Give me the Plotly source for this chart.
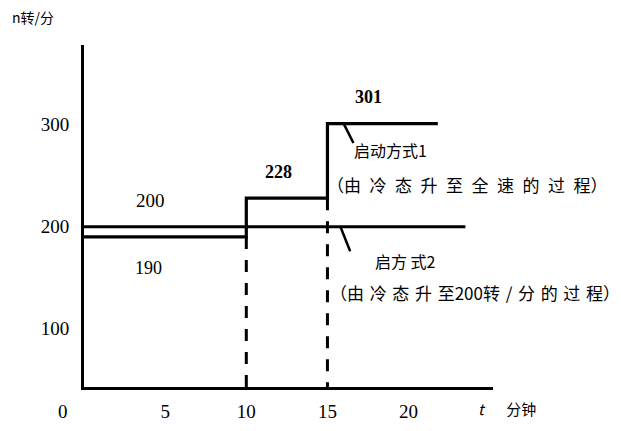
import plotly.graph_objects as go

# ---- data ----
mode1_t = [0, 10, 10, 15, 15, 21.8]
mode1_n = [190, 190, 228, 228, 301, 301]
mode2_t = [0, 23.5]
mode2_n = [200, 200]
step_times = [10, 15]
step_from = [190, 228]
x_ticks = [0, 5, 10, 15, 20]
x_ticktext = ["0" + "\u00a0" * 9, "5", "10", "15", "20"]
y_ticks = [100, 200, 300]
y_ticktext = ["100", "200", "300"]
x_range = [0, 25.2]
y_range = [43, 378]

SERIF = "Liberation Serif, DejaVu Serif, serif"
CJK = "Noto Sans CJK SC, sans-serif"

# plot area in screen pixels (page body adds an 8px offset)
PL, PR, PT, PB = 84, 493, 45, 387
OFF = 8

def px(x):
    return (x - PL) / (PR - PL)

def py(y):
    return (PB - y) / (PB - PT)

def spaced(s, sep="\u2002"):
    return sep.join(list(s))

fig = go.Figure()

for t, n in zip(step_times, step_from):
    fig.add_trace(go.Scatter(x=[t, t], y=[n, y_range[0]], mode="lines",
                             line=dict(color="black", width=3, dash="12px,11px"),
                             hoverinfo="skip", showlegend=False))

fig.add_trace(go.Scatter(x=mode2_t, y=mode2_n, mode="lines",
                         line=dict(color="black", width=3), name="启动方式2",
                         showlegend=False))
fig.add_trace(go.Scatter(x=mode1_t, y=mode1_n, mode="lines",
                         line=dict(color="black", width=3.2),
                         name="启动方式1", showlegend=False))

# leader lines
fig.add_shape(type="line", x0=16.0, y0=301, x1=16.6, y1=282,
              line=dict(color="black", width=2.5))
fig.add_shape(type="line", x0=15.8, y0=200, x1=16.4, y1=176,
              line=dict(color="black", width=2.5))

ann = []
def add(text, x, y, size=16, font=SERIF, xref="x", yref="y", **kw):
    ann.append(dict(text=text, x=x, y=y, xref=xref, yref=yref, showarrow=False,
                    font=dict(family=font, size=size, color="black"), **kw))

add("200", 4.1, 226, size=19)
add("190", 4.0, 160, size=18)
add("<b>228</b>", 12.0, 254, size=18)
add("<b>301</b>", 17.5, 327, size=18)
add("启动方式1", 18.9, 275, size=16, font=CJK)
add("（" + spaced("由冷态升至全速的过程") + "）", 23.6, 241, size=17, font=CJK)
add("启方 式2", 19.8, 166, size=16, font=CJK)
add("（" + spaced("由冷态升至", "\u2004") + "200" + spaced("转/分的过程", "\u2004") + "）",
    24.1, 136, size=17, font=CJK)
add("n转/分", px(10), py(17), size=14, font=CJK, xref="paper", yref="paper",
    xanchor="left", yanchor="middle")
add("<i>t</i>\u2003\u2002分钟", px(476), py(408), size=15, font=CJK,
    xref="paper", yref="paper", xanchor="left", yanchor="middle")

fig.update_layout(
    width=621, height=431, autosize=False,
    margin=dict(l=PL - OFF, r=621 - (PR - OFF), t=PT - OFF,
                b=431 - (PB - OFF)),
    plot_bgcolor="white", paper_bgcolor="white",
    annotations=ann,
    showlegend=False,
)
fig.update_xaxes(range=x_range, tickvals=x_ticks, ticktext=x_ticktext,
                 showgrid=False, zeroline=False, showline=True, linecolor="black",
                 linewidth=3, ticks="", ticklabelstandoff=5, automargin=False,
                 tickfont=dict(family=SERIF, size=19, color="black"))
fig.update_yaxes(range=y_range, tickvals=y_ticks, ticktext=y_ticktext,
                 showgrid=False, zeroline=False, showline=True, linecolor="black",
                 linewidth=3, ticks="", ticklabelstandoff=8, automargin=False,
                 tickfont=dict(family=SERIF, size=19, color="black"))

fig.write_html("out.html")
